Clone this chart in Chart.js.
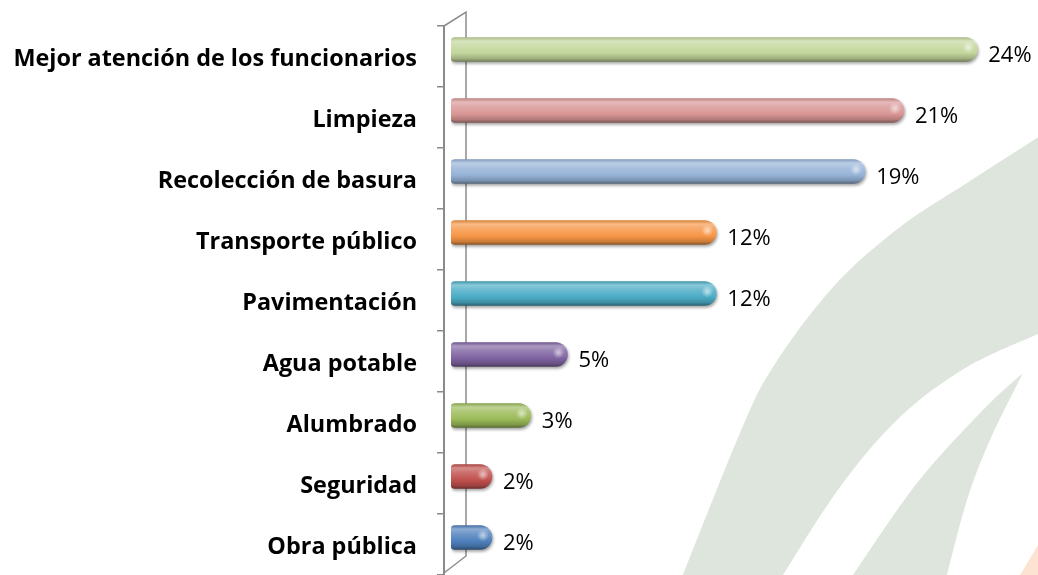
<!DOCTYPE html>
<html><head><meta charset="utf-8">
<script src="https://cdn.jsdelivr.net/npm/chart.js@4/dist/chart.umd.min.js"></script>
<style>html,body{margin:0;padding:0;background:#fff;} canvas{display:block}</style>
</head><body>
<canvas id="c" width="1038" height="575"></canvas>
<script>
const categories = ['Mejor atención de los funcionarios','Limpieza','Recolección de basura','Transporte público','Pavimentación','Agua potable','Alumbrado','Seguridad','Obra pública'];
const values = [24.0, 20.6, 18.8, 11.9, 11.9, 5.0, 3.3, 1.5, 1.5];
const valueLabels = ['24%','21%','19%','12%','12%','5%','3%','2%','2%'];
const barColors = ['#C3D69B','#D99694','#95B3D7','#F79646','#4BACC6','#8064A2','#9BBB59','#C0504D','#4F81BD'];
const axisMin = -0.4, axisMax = 27;

function shade(hex, f){
  const n = parseInt(hex.slice(1),16);
  let r = n>>16, g = (n>>8)&255, b = n&255;
  if (f >= 0) { r += (255-r)*f; g += (255-g)*f; b += (255-b)*f; }
  else { r *= (1+f); g *= (1+f); b *= (1+f); }
  return `rgb(${r|0},${g|0},${b|0})`;
}

function smoothPath(ctx, pts, move){
  if (move) ctx.moveTo(pts[0][0], pts[0][1]); else ctx.lineTo(pts[0][0], pts[0][1]);
  for (let i=0;i<pts.length-1;i++){
    const p0 = pts[i-1]||pts[i], p1 = pts[i], p2 = pts[i+1], p3 = pts[i+2]||p2;
    ctx.bezierCurveTo(p1[0]+(p2[0]-p0[0])/6, p1[1]+(p2[1]-p0[1])/6,
                      p2[0]-(p3[0]-p1[0])/6, p2[1]-(p3[1]-p1[1])/6, p2[0], p2[1]);
  }
}

const deco = {
  id: 'deco',
  beforeDraw(chart){
    const ctx = chart.ctx;
    ctx.save();
    ctx.fillStyle = 'rgb(222,229,221)';
    ctx.beginPath();
    smoothPath(ctx, [[683,575],[740,433],[773,367],[833,287],[900,227],[967,183],[1040,136]], true);
    ctx.lineTo(1040,333);
    smoothPath(ctx, [[1040,333],[967,367],[900,417],[840,487],[783,575]], false);
    ctx.closePath(); ctx.fill();
    ctx.beginPath();
    smoothPath(ctx, [[853,575],[917,483],[983,410],[1023,373]], true);
    smoothPath(ctx, [[1023,373],[990,440],[967,500],[947,575]], false);
    ctx.closePath(); ctx.fill();
    ctx.fillStyle = '#fce3d2';
    ctx.beginPath(); ctx.moveTo(1038,545); ctx.lineTo(1038,575); ctx.lineTo(1020,575); ctx.closePath(); ctx.fill();
    ctx.restore();
  },
  beforeDatasetsDraw(chart){
    const {ctx, chartArea:a} = chart;
    ctx.save();
    ctx.strokeStyle = '#8c8c8c'; ctx.lineWidth = 1.5;
    ctx.beginPath();
    ctx.moveTo(a.left, a.top); ctx.lineTo(a.left+22, a.top-14);
    ctx.lineTo(a.left+22, a.bottom-19); ctx.lineTo(a.left, a.bottom-2);
    ctx.stroke();
    ctx.restore();
    ctx.save();
    ctx.translate(7,-7);
    ctx.shadowColor = 'rgba(0,0,0,0.35)'; ctx.shadowBlur = 3; ctx.shadowOffsetX = 1; ctx.shadowOffsetY = 2;
  },
  afterDatasetsDraw(chart){
    const ctx = chart.ctx;
    const meta = chart.getDatasetMeta(0);
    ctx.shadowColor = 'transparent'; ctx.shadowBlur = 0; ctx.shadowOffsetX = 0; ctx.shadowOffsetY = 0;
    meta.data.forEach(bar => {
      const gx = bar.x-9, gy = bar.y-2;
      const rg = ctx.createRadialGradient(gx, gy, 0, gx, gy, 6);
      rg.addColorStop(0,'rgba(255,255,255,0.6)'); rg.addColorStop(1,'rgba(255,255,255,0)');
      ctx.fillStyle = rg; ctx.beginPath(); ctx.arc(gx, gy, 6, 0, Math.PI*2); ctx.fill();
    });
    ctx.restore();
    ctx.save();
    ctx.font = '22px "Open Sans"'; ctx.fillStyle = '#000'; ctx.textBaseline = 'middle'; ctx.textAlign = 'left';
    meta.data.forEach((bar,i) => ctx.fillText(valueLabels[i], bar.x+7+11, bar.y-1));
    ctx.restore();
  }
};

new Chart(document.getElementById('c'), {
  type: 'bar',
  data: {
    labels: categories,
    datasets: [{
      data: values,
      base: axisMin,
      barThickness: 24,
      borderSkipped: false,
      borderWidth: 0,
      borderRadius: {topLeft: 4, bottomLeft: 4, topRight: 12, bottomRight: 12},
      backgroundColor: (c) => {
        const chart = c.chart; const col = barColors[c.dataIndex] || barColors[0];
        const ys = chart.scales && chart.scales.y;
        if (!chart.chartArea || !ys || c.type !== 'data') return col;
        const yc = ys.getPixelForValue(c.dataIndex);
        const h = 12;
        const g = chart.ctx.createLinearGradient(0, yc-h, 0, yc+h);
        g.addColorStop(0, shade(col,-0.12));
        g.addColorStop(0.15, shade(col,0.35));
        g.addColorStop(0.35, shade(col,0.18));
        g.addColorStop(0.65, col);
        g.addColorStop(0.88, shade(col,-0.18));
        g.addColorStop(1, shade(col,-0.42));
        return g;
      }
    }]
  },
  options: {
    indexAxis: 'y',
    responsive: false,
    animation: false,
    layout: {padding: {left: 0, top: 26, right: 3, bottom: 0}},
    plugins: {legend: {display: false}, tooltip: {enabled: false}},
    scales: {
      x: {display: false, min: axisMin, max: axisMax},
      y: {
        afterFit: (s) => { s.width = 444; s.paddingTop = 0; s.paddingBottom = 0; },
        border: {display: true, color: '#8a8a8a', width: 2},
        grid: {drawOnChartArea: false, drawTicks: true, tickLength: 7, color: '#8a8a8a', lineWidth: 1.5, offset: true},
        ticks: {autoSkip: false, padding: 20, labelOffset: 3, color: '#000', font: {family: 'Open Sans', weight: 'bold', size: 23.4}}
      }
    }
  },
  plugins: [deco]
});
</script>
</body></html>
